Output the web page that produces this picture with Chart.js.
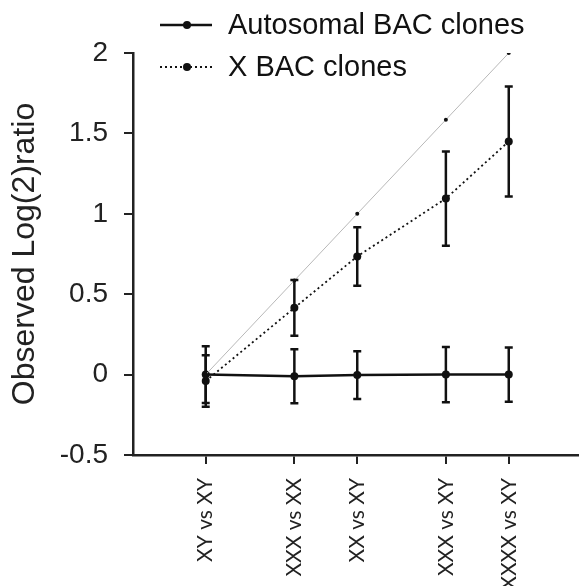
<!DOCTYPE html>
<html>
<head>
<meta charset="utf-8">
<script src="https://cdn.jsdelivr.net/npm/chart.js@4.4.0/dist/chart.umd.min.js"></script>
<style>
    html, body { margin: 0; padding: 0; background: #ffffff; }
    canvas { display: block; }
</style>
</head>
<body>
<canvas id="ratioChart" width="582" height="586"></canvas>
<script>
// sample pairs and their expected log2 ratio (used as x position)
const pairLabels = ['XY vs XY', 'XXX vs XX', 'XX vs XY', 'XXX vs XY', 'XXXX vs XY'];
const expectedRatio = [0, 0.585, 1, 1.585, 2];

// observed log2 ratios
const autosomalMean = [0.00, -0.01, -0.003, 0.00, 0.00];
const autosomalErr = [0.176, 0.168, 0.148, 0.172, 0.169];
const xCloneMean = [-0.04, 0.415, 0.735, 1.095, 1.45];
const xCloneErr = [0.16, 0.173, 0.182, 0.293, 0.342];

const yTicks = [-0.5, 0, 0.5, 1, 1.5, 2];

function toPoints(xs, ys) {
    return xs.map((x, i) => ({ x: x, y: ys[i] }));
}

//---------------------------------Error bars---------------------------------//
const errorBarPlugin = {
    id: 'errorBars',
    afterDatasetsDraw(chart) {
        const ctx = chart.ctx;
        const xScale = chart.scales.x;
        const yScale = chart.scales.y;
        chart.data.datasets.forEach((ds) => {
            if (!ds.errors) return;
            ctx.save();
            ctx.strokeStyle = '#111111';
            ctx.lineWidth = 2.5;
            ds.data.forEach((p, j) => {
                const px = xScale.getPixelForValue(p.x);
                const top = yScale.getPixelForValue(p.y + ds.errors[j]);
                const bottom = yScale.getPixelForValue(p.y - ds.errors[j]);
                ctx.beginPath();
                ctx.moveTo(px, top);
                ctx.lineTo(px, bottom);
                ctx.moveTo(px - 4, top);
                ctx.lineTo(px + 4, top);
                ctx.moveTo(px - 4, bottom);
                ctx.lineTo(px + 4, bottom);
                ctx.stroke();
            });
            ctx.restore();
        });
    }
};

//---------------------------------Legend---------------------------------//
const legendPlugin = {
    id: 'cornerLegend',
    afterDraw(chart) {
        const ctx = chart.ctx;
        const rows = [
            { text: 'Autosomal BAC clones', y: 25, dash: [], width: 2.5 },
            { text: 'X BAC clones', y: 67, dash: [2, 3], width: 1.8 }
        ];
        ctx.save();
        rows.forEach((row) => {
            ctx.strokeStyle = '#111111';
            ctx.lineWidth = row.width;
            ctx.setLineDash(row.dash);
            ctx.beginPath();
            ctx.moveTo(160, row.y);
            ctx.lineTo(212, row.y);
            ctx.stroke();
            ctx.setLineDash([]);
            ctx.fillStyle = '#111111';
            ctx.beginPath();
            ctx.arc(187, row.y, 4, 0, Math.PI * 2);
            ctx.fill();
            ctx.font = '29px "Liberation Sans", Arial, sans-serif';
            ctx.textBaseline = 'middle';
            ctx.textAlign = 'left';
            ctx.fillText(row.text, 228, row.y + 1);
        });
        ctx.restore();
    }
};

const showChart = document.getElementById('ratioChart').getContext('2d');
new Chart(showChart, {
    type: 'scatter',
    data: {
        datasets: [
            {
                label: 'Expected',
                data: toPoints(expectedRatio, expectedRatio),
                showLine: true,
                borderColor: '#b8b8b8',
                borderWidth: 1,
                pointRadius: 2,
                pointBackgroundColor: '#111111',
                pointBorderWidth: 0
            },
            {
                label: 'X BAC clones',
                data: toPoints(expectedRatio, xCloneMean),
                errors: xCloneErr,
                showLine: true,
                borderColor: '#111111',
                borderWidth: 1.8,
                borderDash: [2, 3],
                pointRadius: 4,
                pointBackgroundColor: '#111111',
                pointBorderWidth: 0
            },
            {
                label: 'Autosomal BAC clones',
                data: toPoints(expectedRatio, autosomalMean),
                errors: autosomalErr,
                showLine: true,
                borderColor: '#111111',
                borderWidth: 2.5,
                pointRadius: 4,
                pointBackgroundColor: '#111111',
                pointBorderWidth: 0
            }
        ]
    },
    options: {
        responsive: false,
        animation: false,
        layout: {
            padding: { top: 53, left: 0, right: 0, bottom: 0 }
        },
        plugins: {
            legend: { display: false },
            tooltip: { enabled: false }
        },
        scales: {
            x: {
                type: 'linear',
                min: -0.48,
                max: 2.457,
                afterBuildTicks: (scale) => {
                    scale.ticks = expectedRatio.map((v) => ({ value: v }));
                },
                afterFit: (scale) => {
                    scale.height = 131;
                },
                grid: {
                    drawOnChartArea: false,
                    drawTicks: true,
                    tickLength: 9,
                    tickColor: '#222222',
                    lineWidth: 2
                },
                border: { display: true, color: '#222222', width: 2.5 },
                ticks: {
                    autoSkip: false,
                    minRotation: 90,
                    maxRotation: 90,
                    padding: 14,
                    color: '#222222',
                    font: { size: 21, family: 'Lato, "Open Sans", sans-serif' },
                    callback: (value) => {
                        const i = expectedRatio.indexOf(value);
                        return i >= 0 ? pairLabels[i] : '';
                    }
                }
            },
            y: {
                min: -0.5,
                max: 2,
                afterBuildTicks: (scale) => {
                    scale.ticks = yTicks.map((v) => ({ value: v }));
                },
                afterFit: (scale) => {
                    scale.width = 133;
                },
                grid: {
                    drawOnChartArea: false,
                    drawTicks: true,
                    tickLength: 9,
                    tickColor: '#222222',
                    lineWidth: 2
                },
                border: { display: true, color: '#222222', width: 2.5 },
                ticks: {
                    padding: 16,
                    color: '#222222',
                    font: { size: 28, family: '"Liberation Sans", Arial, sans-serif' },
                    callback: (value) => String(value)
                },
                title: {
                    display: true,
                    text: 'Observed Log(2)ratio',
                    color: '#222222',
                    padding: { top: 6, bottom: 0 },
                    font: { size: 32, family: '"Liberation Sans", Arial, sans-serif' }
                }
            }
        }
    },
    plugins: [errorBarPlugin, legendPlugin]
});
</script>
</body>
</html>
